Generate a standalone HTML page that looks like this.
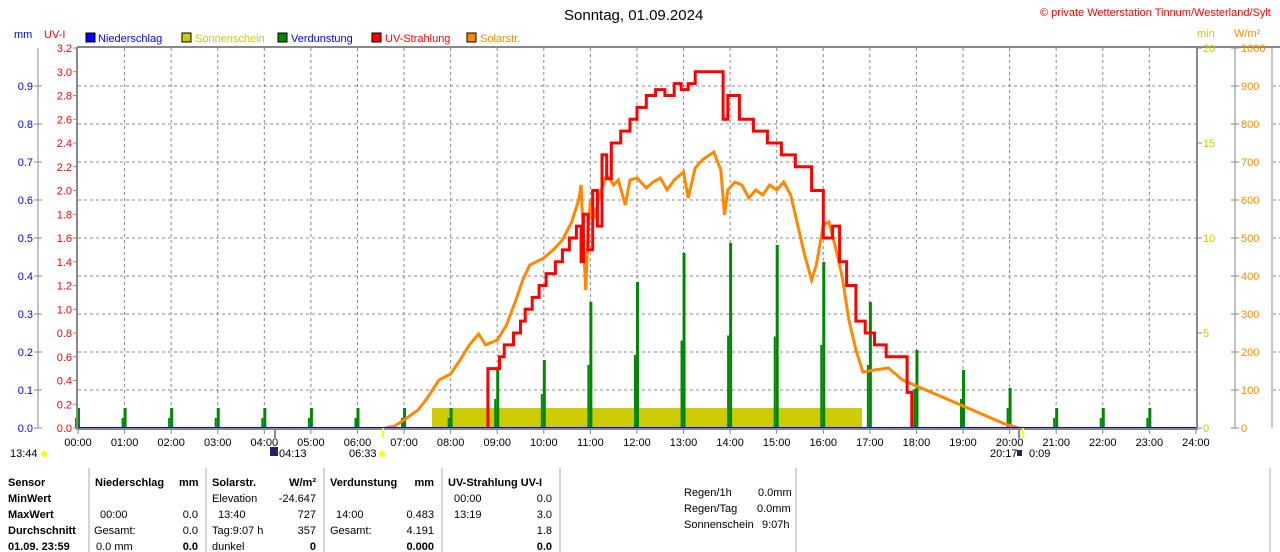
<!DOCTYPE html><html><head><meta charset="utf-8"><style>
body{margin:0;background:#fff;width:1280px;height:552px;overflow:hidden;font-family:"Liberation Sans",sans-serif}
svg{position:absolute;left:0;top:0}
text{font-family:"Liberation Sans",sans-serif;font-size:11px}
.b{font-weight:bold}
</style></head><body>
<svg id="s" width="1280" height="552" xmlns="http://www.w3.org/2000/svg">
<text x="564" y="20" style="font-size:15px" fill="#000">Sonntag, 01.09.2024</text>
<text x="1040" y="16" fill="#f00">© private Wetterstation Tinnum/Westerland/Sylt</text>
<text x="14" y="38" fill="#00f">mm</text>
<text x="44" y="38" fill="#f00">UV-I</text>
<rect x="86" y="33" width="9" height="9" fill="#00f" stroke="#000"/><text x="98" y="42" fill="#00f">Niederschlag</text>
<rect x="182" y="33" width="9" height="9" fill="#cc0" stroke="#000"/><text x="195" y="42" fill="#cc0">Sonnenschein</text>
<rect x="278" y="33" width="9" height="9" fill="#080" stroke="#000"/><text x="291" y="42" fill="#00f">Verdunstung</text>
<rect x="372" y="33" width="9" height="9" fill="#f00" stroke="#000"/><text x="385" y="42" fill="#f00">UV-Strahlung</text>
<rect x="467" y="33" width="9" height="9" fill="#f80" stroke="#000"/><text x="480" y="42" fill="#f80">Solarstr.</text>
<text x="1197" y="37" fill="#cc0">min</text>
<text x="1234" y="37" fill="#f80">W/m²</text>
<g id="g"></g>
<text x="10" y="457" fill="#000">13:44</text><circle cx="44" cy="454" r="3" fill="#ff0"/>
<rect x="270" y="447" width="8" height="9" fill="#226"/><text x="279" y="457">04:13</text>
<text x="349" y="457">06:33</text><circle cx="382" cy="454" r="3" fill="#ff0"/>
<text x="990" y="457">20:17</text><rect x="1017" y="450" width="5" height="6" fill="#226"/><text x="1029" y="457">0:09</text>
<g fill="#000">
<text x="8" y="486" class="b">Sensor</text><text x="8" y="502" class="b">MinWert</text><text x="8" y="518" class="b">MaxWert</text><text x="8" y="534" class="b">Durchschnitt</text><text x="8" y="550" class="b">01.09. 23:59</text>
<text x="95" y="486" class="b">Niederschlag</text><text x="179" y="486" class="b">mm</text>
<text x="100" y="518">00:00</text><text x="198" y="518" text-anchor="end">0.0</text>
<text x="94" y="534">Gesamt:</text><text x="198" y="534" text-anchor="end">0.0</text>
<text x="96" y="550">0.0 mm</text><text x="198" y="550" text-anchor="end" class="b">0.0</text>
<text x="212" y="486" class="b">Solarstr.</text><text x="316" y="486" text-anchor="end" class="b">W/m²</text>
<text x="212" y="502">Elevation</text><text x="316" y="502" text-anchor="end">-24.647</text>
<text x="218" y="518">13:40</text><text x="316" y="518" text-anchor="end">727</text>
<text x="212" y="534">Tag:9:07 h</text><text x="316" y="534" text-anchor="end">357</text>
<text x="212" y="550">dunkel</text><text x="316" y="550" text-anchor="end" class="b">0</text>
<text x="330" y="486" class="b">Verdunstung</text><text x="434" y="486" text-anchor="end" class="b">mm</text>
<text x="336" y="518">14:00</text><text x="434" y="518" text-anchor="end">0.483</text>
<text x="330" y="534">Gesamt:</text><text x="434" y="534" text-anchor="end">4.191</text>
<text x="434" y="550" text-anchor="end" class="b">0.000</text>
<text x="448" y="486" class="b">UV-Strahlung UV-I</text>
<text x="454" y="502">00:00</text><text x="552" y="502" text-anchor="end">0.0</text>
<text x="454" y="518">13:19</text><text x="552" y="518" text-anchor="end">3.0</text>
<text x="552" y="534" text-anchor="end">1.8</text>
<text x="552" y="550" text-anchor="end" class="b">0.0</text>
<text x="684" y="496">Regen/1h</text><text x="758" y="496">0.0mm</text>
<text x="684" y="512">Regen/Tag</text><text x="757" y="512">0.0mm</text>
<text x="684" y="528">Sonnenschein</text><text x="762" y="528">9:07h</text>
</g>
</svg>
<script>
var g=document.getElementById('g'),h='';
function X(t){return 78+t*46.58}
function L(a,b,c,d,s,w,da){h+='<line x1="'+a+'" y1="'+b+'" x2="'+c+'" y2="'+d+'" stroke="'+s+'" stroke-width="'+(w||1)+'"'+(da?' stroke-dasharray="'+da+'"':'')+'/>';}
function T(x,y,s,c,a){h+='<text x="'+x+'" y="'+y+'" fill="'+c+'" text-anchor="'+(a||'start')+'">'+s+'</text>';}
for(var i=1;i<24;i++)L(X(i),48,X(i),428,'#888',1,'3,3');
for(var v=1;v<10;v++){var y=428-v*38;L(78,y,1196,y,'#888',1,'3,3');L(1273,y,1280,y,'#888',1,'3,3');}
h+='<rect x="432" y="408" width="430" height="20" fill="#cc0"/>';
var ev=[20,20,20,20,20,20,20,20,20,58,68,126,146,175,185,183,166,126,78,58,40,20,20,20];
for(var i=0;i<24;i++){var x=X(i);h+='<rect x="'+(x-1)+'" y="'+(428-ev[i])+'" width="3" height="'+ev[i]+'" fill="#080"/><rect x="'+(x-3)+'" y="'+(428-ev[i]*0.5)+'" width="2" height="'+ev[i]*0.5+'" fill="#080"/>';}
var so=[[6.6,428],[6.8,426],[7,420],[7.3,410],[7.5,398],[7.75,380],[8,374],[8.2,360],[8.4,345],[8.6,334],[8.75,345],[9,340],[9.2,325],[9.4,300],[9.55,280],[9.7,265],[10,258],[10.2,250],[10.4,240],[10.6,222],[10.75,200],[10.8,185],[10.85,240],[10.9,290],[10.95,230],[11,200],[11.1,215],[11.2,195],[11.35,175],[11.5,185],[11.6,180],[11.75,205],[11.85,180],[12,178],[12.2,188],[12.35,182],[12.5,178],[12.65,190],[12.8,180],[13,172],[13.1,198],[13.25,168],[13.4,160],[13.65,152],[13.8,170],[13.88,215],[13.95,190],[14.1,182],[14.25,185],[14.4,198],[14.55,190],[14.7,195],[14.85,185],[15,190],[15.15,182],[15.3,195],[15.45,225],[15.6,255],[15.75,280],[15.85,265],[16,225],[16.12,222],[16.25,245],[16.4,275],[16.55,320],[16.7,350],[16.85,372],[17.1,370],[17.4,368],[17.7,380],[18,386],[18.5,396],[19,406],[19.5,416],[19.9,424],[20.2,428]];
var p='';so.forEach(function(q,i){p+=(i?'L':'M')+X(q[0]).toFixed(1)+' '+q[1];});
h+='<path d="'+p+'" fill="none" stroke="#f80" stroke-width="3"/>';
var uv=[[8.78,0],[8.8,0.5],[9.05,0.6],[9.15,0.7],[9.35,0.8],[9.5,0.9],[9.6,1.0],[9.75,1.1],[9.9,1.2],[10.05,1.3],[10.25,1.4],[10.4,1.5],[10.55,1.6],[10.7,1.7],[10.8,1.4],[10.85,1.8],[10.95,1.5],[11.05,2.0],[11.15,1.7],[11.25,2.3],[11.35,2.1],[11.45,2.4],[11.65,2.5],[11.85,2.6],[12,2.7],[12.2,2.8],[12.4,2.85],[12.6,2.8],[12.8,2.9],[12.95,2.85],[13.1,2.9],[13.25,3.0],[13.85,2.6],[13.95,2.8],[14.2,2.6],[14.5,2.5],[14.8,2.4],[15.1,2.3],[15.4,2.2],[15.75,2.0],[16,1.6],[16.2,1.7],[16.35,1.4],[16.5,1.2],[16.7,0.9],[16.9,0.8],[17.1,0.7],[17.35,0.6],[17.8,0.3],[17.9,0]];
p='';var prev=null;uv.forEach(function(q,i){var x=X(q[0]).toFixed(1),y=(428-q[1]*118.75).toFixed(1);if(!i)p='M'+x+' 428 L'+x+' '+y;else p+='L'+x+' '+prev+'L'+x+' '+y;prev=y;});
h+='<path d="'+p+'" fill="none" stroke="#f00" stroke-width="3"/>';
L(78,428,1196,428,'#00f',2);
L(77,47,1280,47,'#888',2);L(77,47,77,430,'#888',2);L(1197,47,1197,430,'#888',2);L(77,429,1197,429,'#888',2);
L(38,48,38,428,'#888',1);L(1235,48,1235,428,'#888',1);L(1272,48,1272,428,'#888',1);
for(var v=0;v<=16;v++){var y=428-v*23.75;L(73,y,77,y,'#888');T(72,y+4,(v*0.2).toFixed(1),'#f00','end');}
for(var v=0;v<=9;v++){var y=428-v*38;L(34,y,42,y,'#888');T(33,y+4,(v/10).toFixed(1),'#00f','end');}
for(var v=0;v<=4;v++){var y=428-v*95;L(1197,y,1202,y,'#888');T(1203,y+4,v*5,'#cc0');}
for(var v=0;v<=10;v++){var y=428-v*38;L(1231,y,1239,y,'#888');T(1241,y+4,v*100,'#f80');}
for(var i=0;i<=24;i++){var x=X(i);L(x,429,x,434,'#888');T(x,446,(i<10?'0':'')+i+':00','#000','middle');}
L(275,428,275,438,'#888',2);L(1019,428,1019,438,'#888',2);L(383,428,383,438,'#ff0',2);L(1023,428,1023,438,'#ff0',2);
[89,206,324,442,560,796,1270].forEach(function(x){L(x,468,x,552,'#aaa');});
g.innerHTML=h;
</script>
</body></html>
